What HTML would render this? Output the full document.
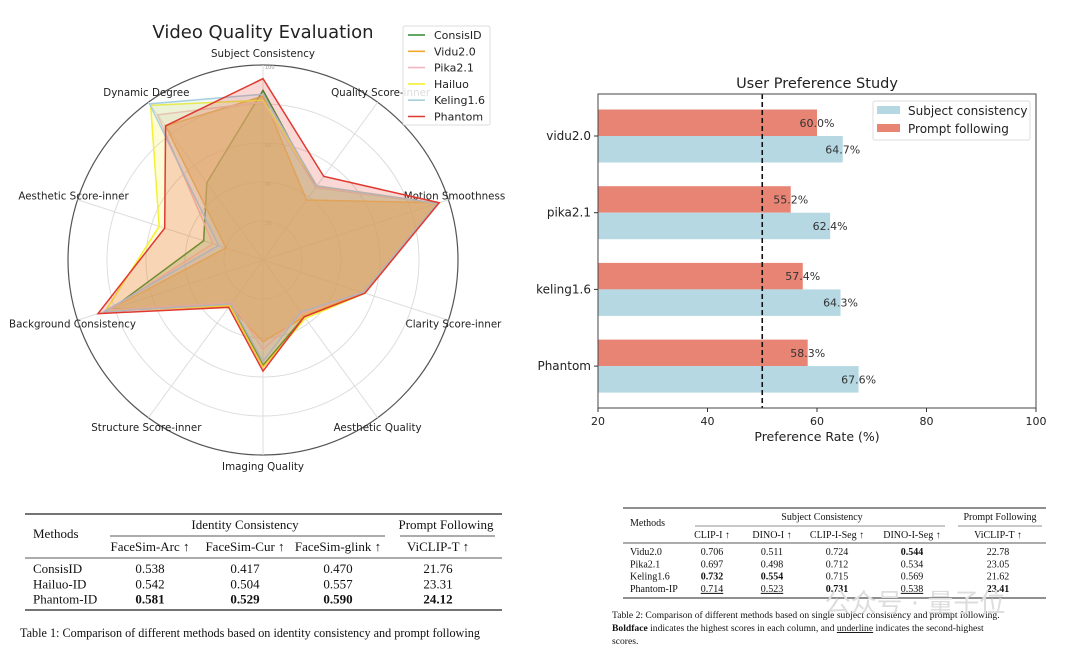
<!DOCTYPE html>
<html><head><meta charset="utf-8">
<style>
body{margin:0;background:#fff;width:1080px;height:652px;overflow:hidden;font-family:"Liberation Sans","DejaVu Sans",sans-serif}
svg text{font-family:"DejaVu Sans","Liberation Sans",sans-serif}
.tb{font-family:"Liberation Serif",serif;fill:#111}
</style></head>
<body>
<svg id="s" width="1080" height="652" xmlns="http://www.w3.org/2000/svg">
<g id="radar"></g>
<g id="bars"></g>
<g id="t1"></g>
<g id="t2"></g>
<text x="915" y="612" font-size="26" fill="#ddd" text-anchor="middle" font-family="Noto Sans CJK SC, sans-serif">公众号 · 量子位</text>
</svg>
<script>
const NS="http://www.w3.org/2000/svg";
function mk(p,tag,at,txt){const e=document.createElementNS(NS,tag);for(const k in at)e.setAttribute(k,at[k]);if(txt!==undefined)e.textContent=txt;p.appendChild(e);return e;}

// ===== Radar data =====
const radarAxes=["Subject Consistency","Quality Score-inner","Motion Smoothness","Clarity Score-inner","Aesthetic Quality","Imaging Quality","Structure Score-inner","Background Consistency","Aesthetic Score-inner","Dynamic Degree"];
const radarSeries=["ConsisID","Vidu2.0","Pika2.1","Hailuo","Keling1.6","Phantom"];
const radarColors=["#2e8b2e","#f0a830","#f4b6c2","#f5f030","#a8d0dc","#e03a30"];
const consisID=[87,46,94,54,36,54,28,82,32,49];
const vidu=[84,38,95,54,36,42,29,84,20,85];
const pika=[81,46,94,54,34,46,27,83,27,92];
const hailuo=[82,47,94,55,37,55,29,85,56,98];
const keling=[85,47,94,54,33,52,28,86,24,99];
const phantom=[93,53,95,55,36,57,30,89,53,85];
const radarValues=[consisID,vidu,pika,hailuo,keling,phantom];
const radarTicks=[20,40,60,80,100];

const R=document.getElementById('radar');
const cx=263,cy=260,rs=1.95;
function pt(i,v){const a=i*2*Math.PI/radarAxes.length;return [cx+Math.sin(a)*v*rs,cy-Math.cos(a)*v*rs];}
const labOff=[[0,-8],[3,-6],[6,0],[5,7],[0,13],[0,15],[-2,13],[-5,7],[-4,0],[-2,-6]];
mk(R,'text',{x:263,y:38,'font-size':18,'text-anchor':'middle',fill:'#222'},'Video Quality Evaluation');
radarTicks.forEach(t=>{const c=mk(R,'circle',{cx:cx,cy:cy,r:t*rs,fill:'none',stroke:t===100?'#555':'#ddd','stroke-width':t===100?1.2:1});

const l=mk(R,'text',{x:cx+2,y:cy-t*rs+4,'font-size':5,fill:'#999'},String(t));});
radarAxes.forEach((n,i)=>{const [x,y]=pt(i,100);const s=mk(R,'line',{x1:cx,y1:cy,x2:x,y2:y,stroke:'#ddd'});
const t=mk(R,'text',{x:x+labOff[i][0],y:y+labOff[i][1],'font-size':10.3,'text-anchor':'middle',fill:'#222'},n);});
radarValues.forEach((vals,k)=>{const pts=vals.map((v,i)=>pt(i,v).join(',')).join(' ');
const p=mk(R,'polygon',{points:pts,fill:radarColors[k],'fill-opacity':k===1?0.5:0.2,stroke:radarColors[k],'stroke-width':1.5});
});
{const lg=mk(R,'g',{});
mk(lg,'rect',{x:403,y:26,width:87,height:99,fill:'#fff','fill-opacity':0.85,stroke:'#ddd',rx:2});
radarSeries.forEach((n,k)=>{const y=35+k*16.3;mk(lg,'line',{x1:408,x2:425,y1:y,y2:y,stroke:radarColors[k],'stroke-width':1.6});
const t=mk(lg,'text',{x:434,y:y+4,'font-size':11,fill:'#222'},n);});}

// ===== Bar data =====
const barCats=["vidu2.0","pika2.1","keling1.6","Phantom"];
const subjectConsistency=[64.7,62.4,64.3,67.6];
const promptFollowing=[60.0,55.2,57.4,58.3];
const xTicks=[20,40,60,80,100];
const B=document.getElementById('bars');
const L=598,Rr=1036,T=94,Bt=408;
const xs=v=>L+(v-20)/80*(Rr-L);
const ys=i=>T+42+i*76.7;
const bh=26.5;
mk(B,'text',{x:817,y:88,'font-size':14.5,'text-anchor':'middle',fill:'#222'},'User Preference Study');
barCats.forEach((c,i)=>{const y=ys(i);
const r=mk(B,'rect',{x:L,y:y-bh,width:xs(promptFollowing[i])-L,height:bh,fill:'#e88474'});
const b=mk(B,'rect',{x:L,y:y,width:xs(subjectConsistency[i])-L,height:bh,fill:'#b5d8e3'});
mk(B,'text',{x:xs(promptFollowing[i]),y:y-bh/2+4,'font-size':11,'text-anchor':'middle',fill:'#333'},promptFollowing[i].toFixed(1)+'%');
mk(B,'text',{x:xs(subjectConsistency[i]),y:y+bh/2+4,'font-size':11,'text-anchor':'middle',fill:'#333'},subjectConsistency[i].toFixed(1)+'%');
mk(B,'line',{x1:L-4,x2:L,y1:y,y2:y,stroke:'#333'});
const t=mk(B,'text',{x:L-7,y:y+4,'font-size':12,'text-anchor':'end',fill:'#222'},c);});
mk(B,'line',{x1:xs(50),x2:xs(50),y1:T,y2:Bt,stroke:'#111','stroke-width':1.6,'stroke-dasharray':'5,3'});
mk(B,'rect',{x:L,y:T,width:Rr-L,height:Bt-T,fill:'none',stroke:'#444'});
xTicks.forEach(v=>{mk(B,'line',{x1:xs(v),x2:xs(v),y1:Bt,y2:Bt+4,stroke:'#333'});
const t=mk(B,'text',{x:xs(v),y:Bt+17,'font-size':11,'text-anchor':'middle',fill:'#222'},String(v));});
mk(B,'text',{x:817,y:441,'font-size':12.5,'text-anchor':'middle',fill:'#222'},'Preference Rate (%)');
{const lg=mk(B,'g',{});
mk(lg,'rect',{x:873,y:101,width:157,height:39,fill:'#fff',stroke:'#ddd',rx:2});
mk(lg,'rect',{x:877,y:106,width:23,height:8,fill:'#b5d8e3'});mk(lg,'text',{x:908,y:115,'font-size':12,fill:'#222'},'Subject consistency');
mk(lg,'rect',{x:877,y:124,width:23,height:8,fill:'#e88474'});mk(lg,'text',{x:908,y:133,'font-size':12,fill:'#222'},'Prompt following');}

// ===== Table 1 =====
const T1=document.getElementById('t1');
function tx(p,x,y,s,txt,o){o=o||{};const t=mk(p,'text',Object.assign({x:x,y:y,'font-size':s,'text-anchor':o.a||'middle',class:'tb','font-weight':o.b?'bold':'normal','text-decoration':o.u?'underline':'none'}),txt);return t;}
function ln(p,x1,x2,y,w){mk(p,'line',{x1:x1,x2:x2,y1:y,y2:y,stroke:'#222','stroke-width':w});}
ln(T1,25,502,514,1.3);ln(T1,110,385,536,0.7);ln(T1,400,495,536,0.7);ln(T1,25,502,558,0.8);ln(T1,25,502,610,1.3);
tx(T1,33,538,13,'Methods',{a:'start',n:'header'});
tx(T1,245,529,13,'Identity Consistency',{n:'header'});tx(T1,446,529,13,'Prompt Following',{n:'header'});
[['FaceSim-Arc ↑',150],['FaceSim-Cur ↑',245],['FaceSim-glink ↑',338],['ViCLIP-T ↑',438]].forEach(h=>tx(T1,h[1],551,13,h[0],{n:'header'}));
const t1rows=[['ConsisID','0.538','0.417','0.470','21.76'],['Hailuo-ID','0.542','0.504','0.557','23.31'],['Phantom-ID','0.581','0.529','0.590','24.12']];
const t1x=[150,245,338,438];
t1rows.forEach((r,i)=>{const y=573+i*15.3;tx(T1,33,y,13,r[0],{a:'start'});for(let j=1;j<5;j++)tx(T1,t1x[j-1],y,13,r[j],{b:i===2});});
tx(T1,20,637,12.2,'Table 1: Comparison of different methods based on identity consistency and prompt following',{a:'start',n:'table-1-caption'});

// ===== Table 2 =====
const T2=document.getElementById('t2');
ln(T2,623,1046,508,1.1);ln(T2,695,945,526,0.6);ln(T2,958,1042,526,0.6);ln(T2,623,1046,543,0.7);ln(T2,623,1046,598,1.1);
tx(T2,630,526,10,'Methods',{a:'start',n:'header'});
tx(T2,822,520,10,'Subject Consistency',{n:'header'});tx(T2,1000,520,10,'Prompt Following',{n:'header'});
const t2x=[712,772,837,912,998];
['CLIP-I ↑','DINO-I ↑','CLIP-I-Seg ↑','DINO-I-Seg ↑','ViCLIP-T ↑'].forEach((h,j)=>tx(T2,t2x[j],538,10,h,{n:'header'}));
const t2rows=[['Vidu2.0','0.706','0.511','0.724','0.544','22.78'],['Pika2.1','0.697','0.498','0.712','0.534','23.05'],['Keling1.6','0.732','0.554','0.715','0.569','21.62'],['Phantom-IP','0.714','0.523','0.731','0.538','23.41']];
const bold=[[0,4],[2,1],[2,2],[3,3],[3,5]],und=[[3,1],[3,2],[3,4]];
t2rows.forEach((r,i)=>{const y=555+i*12.3;tx(T2,630,y,10,r[0],{a:'start'});
for(let j=1;j<6;j++){const b=bold.some(q=>q[0]===i&&q[1]===j),u=und.some(q=>q[0]===i&&q[1]===j);tx(T2,t2x[j-1],y,10,r[j],{b:b,u:u});}});
tx(T2,612,618,9.6,'Table 2: Comparison of different methods based on single subject consistency and prompt following.',{a:'start',n:'table-2-caption'});
{const t=tx(T2,612,631,9.6,'',{a:'start',n:'table-2-caption'});
mk(t,'tspan',{'font-weight':'bold'},'Boldface');mk(t,'tspan',{},' indicates the highest scores in each column, and ');mk(t,'tspan',{'text-decoration':'underline'},'underline');mk(t,'tspan',{},' indicates the second-highest');}
tx(T2,612,644,9.6,'scores.',{a:'start',n:'table-2-caption'});
</script>
</body></html>
